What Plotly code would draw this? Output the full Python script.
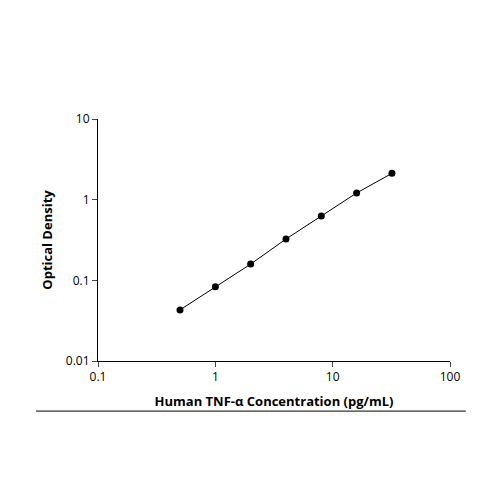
import plotly.graph_objects as go

conc = [0.5, 1, 2, 4, 8, 16, 32]
od = [0.043, 0.083, 0.159, 0.325, 0.627, 1.21, 2.12]
xticks = [0.1, 1, 10, 100]
xlabels = ["0.1", "1", "10", "100"]
yticks = [0.01, 0.1, 1, 10]
ylabels = ["0.01", "0.1", "1", "10"]

fig = go.Figure(go.Scatter(x=conc, y=od, mode="lines+markers",
    line=dict(color="black", width=1), marker=dict(color="black", size=7)))
fig.update_layout(width=500, height=500, plot_bgcolor="white", paper_bgcolor="white",
    margin=dict(l=90, r=58, t=111, b=147), showlegend=False,
    font=dict(family="Open Sans, Arial, sans-serif", color="black", size=12))
fig.update_xaxes(type="log", range=[-1, 2], tickvals=xticks, ticktext=xlabels,
    showline=True, linecolor="black", linewidth=1, ticks="outside", ticklen=5,
    showgrid=False, zeroline=False,
    title=dict(text="<b>Human TNF-α Concentration (pg/mL)</b>", font=dict(size=13), standoff=12))
fig.update_yaxes(type="log", range=[-2, 1], tickvals=yticks, ticktext=ylabels,
    showline=True, linecolor="black", linewidth=1, ticks="outside", ticklen=5,
    showgrid=False, zeroline=False,
    title=dict(text="<b>Optical Density</b>", font=dict(size=13), standoff=10))
fig.add_shape(type="line", xref="paper", yref="paper", x0=-0.176, x1=1.045,
    y0=-0.207, y1=-0.207, line=dict(color="black", width=1))
fig.write_html("out.html")
